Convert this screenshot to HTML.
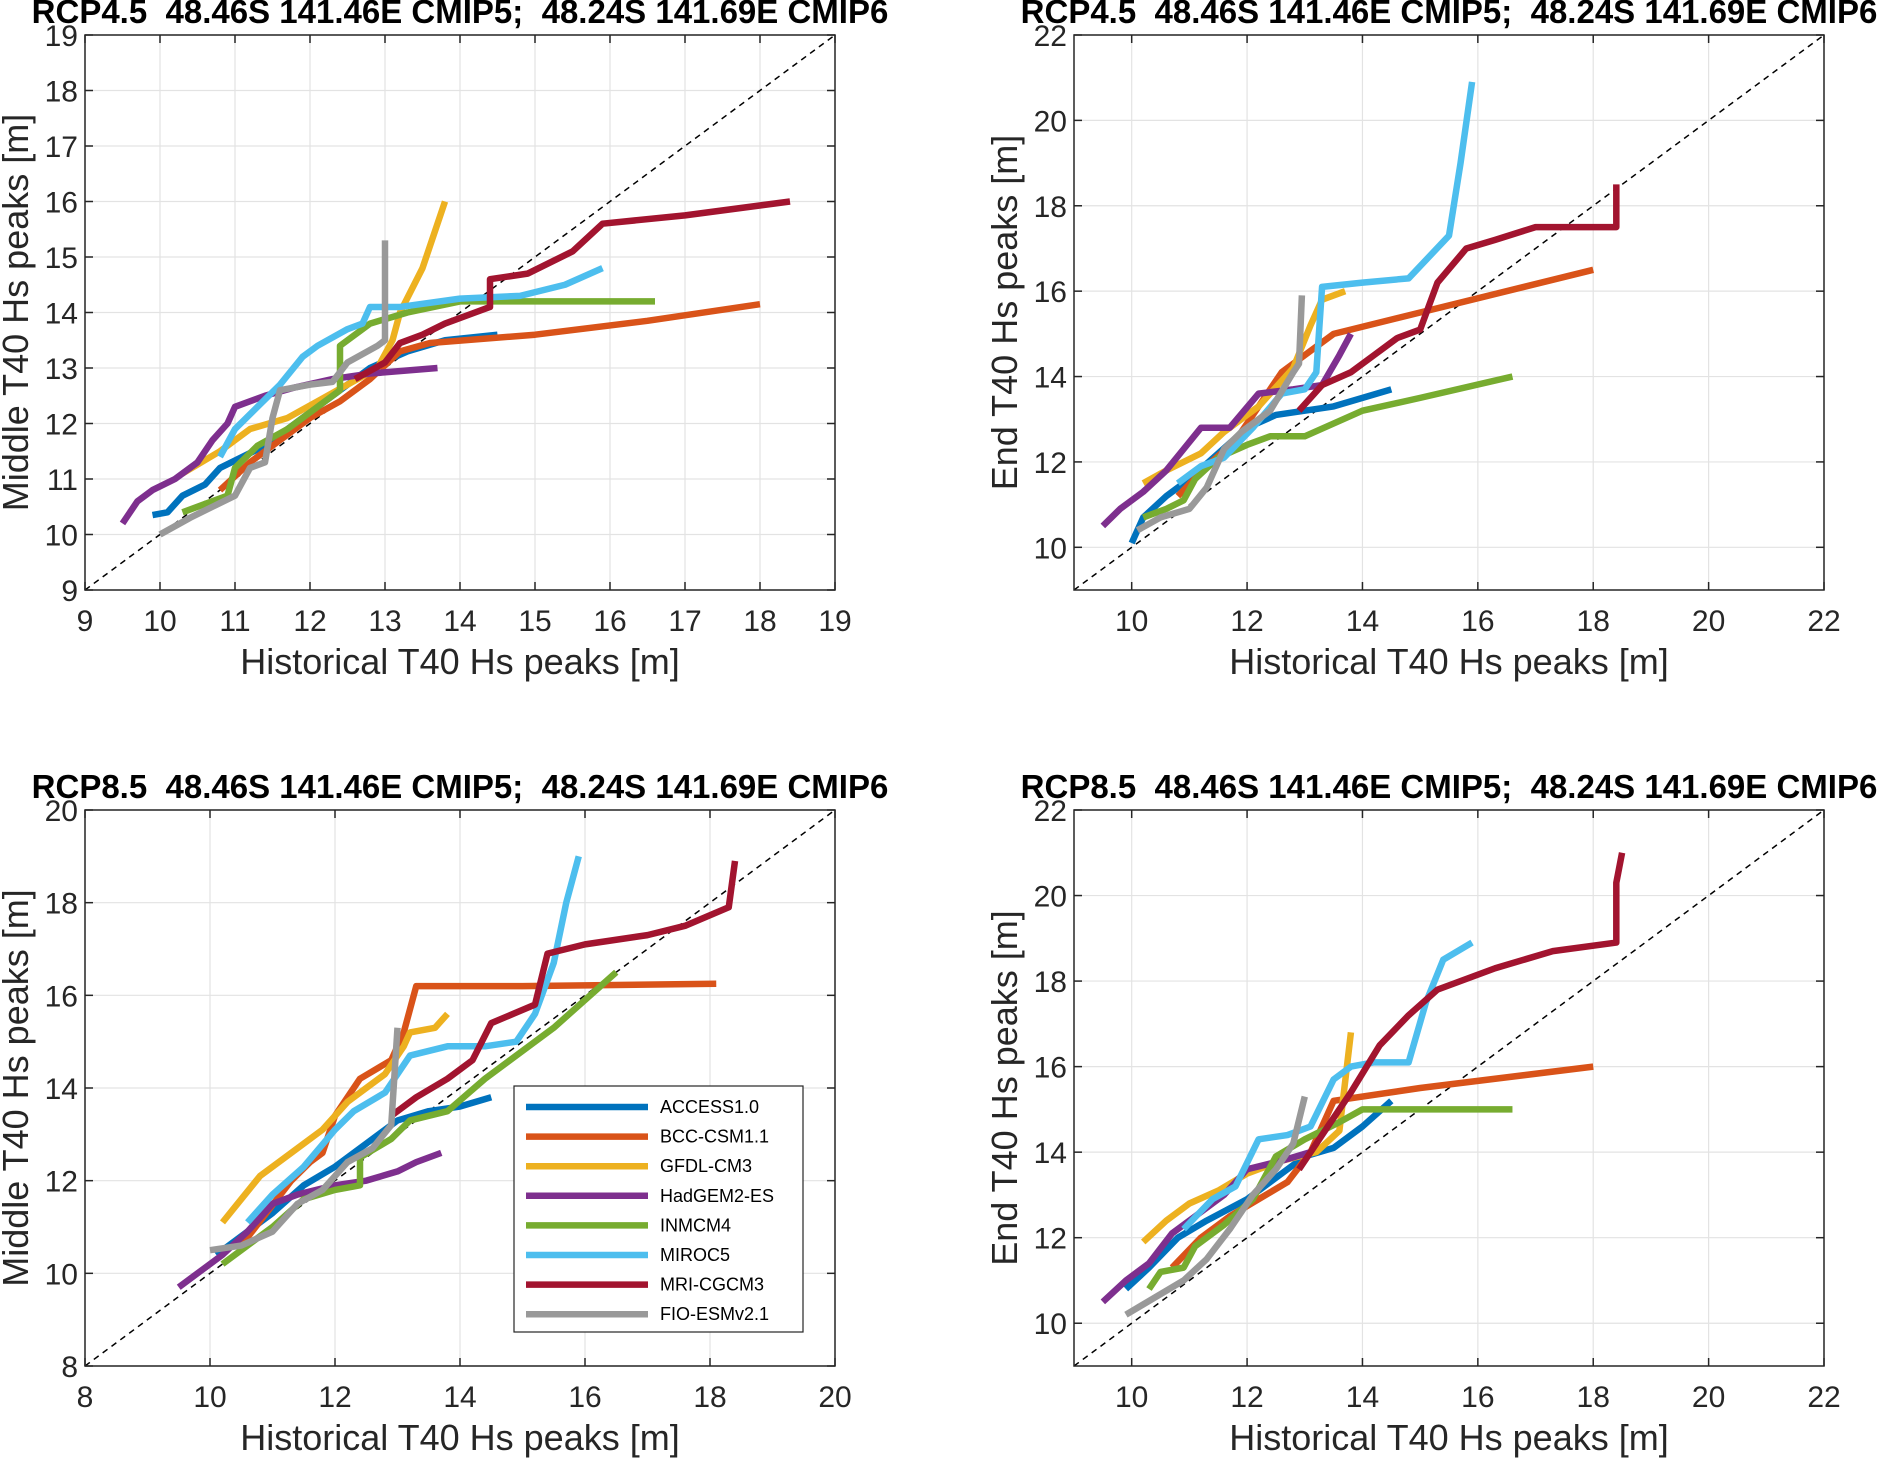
<!DOCTYPE html>
<html><head><meta charset="utf-8"><style>
html,body{margin:0;padding:0;background:#fff;}
svg{display:block;font-family:"Liberation Sans",Arial,sans-serif;}
.ttl{white-space:pre;}
</style></head><body>
<svg id="fig" width="1881" height="1460" viewBox="0 0 1881 1460" xmlns="http://www.w3.org/2000/svg"></svg>
<script>
const seriesNames = ["ACCESS1.0","BCC-CSM1.1","GFDL-CM3","HadGEM2-ES","INMCM4","MIROC5","MRI-CGCM3","FIO-ESMv2.1"];
const seriesColors = ["#0072BD","#D95319","#EDB120","#7E2F8E","#77AC30","#4DBEEE","#A2142F","#999999"];
const panelTitles = ["RCP4.5  48.46S 141.46E CMIP5;  48.24S 141.69E CMIP6","RCP4.5  48.46S 141.46E CMIP5;  48.24S 141.69E CMIP6","RCP8.5  48.46S 141.46E CMIP5;  48.24S 141.69E CMIP6","RCP8.5  48.46S 141.46E CMIP5;  48.24S 141.69E CMIP6"];
const yLabels = ["Middle T40 Hs peaks [m]","End T40 Hs peaks [m]","Middle T40 Hs peaks [m]","End T40 Hs peaks [m]"];
const xTicksA = [9,10,11,12,13,14,15,16,17,18,19];
const xTicksB = [10,12,14,16,18,20,22];
const xTicksC = [8,10,12,14,16,18,20];
const yTicksB = [10,12,14,16,18,20,22];
const panelA = [
 [[9.9,10.35],[10.1,10.4],[10.3,10.7],[10.6,10.9],[10.8,11.2],[11.1,11.4],[11.4,11.6],[11.7,11.9],[12.0,12.2],[12.4,12.6],[12.8,13.0],[13.3,13.3],[13.8,13.5],[14.5,13.6]],
 [[10.8,10.8],[11.2,11.3],[11.6,11.7],[12,12.1],[12.4,12.4],[12.8,12.8],[13.2,13.3],[13.6,13.45],[15,13.6],[16.5,13.85],[18,14.15]],
 [[10.3,11.1],[10.8,11.5],[11.2,11.9],[11.7,12.1],[12.1,12.4],[12.5,12.7],[12.9,13.0],[13.1,13.5],[13.2,14.0],[13.5,14.8],[13.8,16.0]],
 [[9.5,10.2],[9.7,10.6],[9.9,10.8],[10.2,11.0],[10.5,11.3],[10.7,11.7],[10.9,12.0],[11.0,12.3],[11.4,12.5],[11.8,12.65],[12.3,12.8],[12.8,12.9],[13.7,13.0]],
 [[10.3,10.4],[10.7,10.6],[10.9,10.7],[11.0,11.2],[11.3,11.6],[11.7,11.9],[12.1,12.3],[12.4,12.6],[12.4,13.4],[12.8,13.8],[13.3,14.0],[14,14.2],[15,14.2],[16.6,14.2]],
 [[10.8,11.4],[11.0,11.9],[11.3,12.3],[11.6,12.7],[11.9,13.2],[12.1,13.4],[12.5,13.7],[12.7,13.8],[12.8,14.1],[13.2,14.1],[14,14.25],[14.8,14.3],[15.4,14.5],[15.9,14.8]],
 [[12.6,12.8],[13,13.1],[13.2,13.45],[13.5,13.6],[13.8,13.8],[14.2,14.0],[14.4,14.1],[14.4,14.6],[14.9,14.7],[15.2,14.9],[15.5,15.1],[15.9,15.6],[17,15.75],[18.4,16.0]],
 [[10,10.0],[10.4,10.3],[10.7,10.5],[11.0,10.7],[11.2,11.2],[11.4,11.3],[11.5,12.1],[11.6,12.6],[12,12.7],[12.3,12.75],[12.5,13.1],[12.9,13.4],[13,13.5],[13,15.3]]
];
const panelB = [
 [[10,10.1],[10.2,10.7],[10.6,11.2],[11,11.6],[11.5,12.2],[12,12.8],[12.5,13.1],[13,13.2],[13.5,13.3],[14.5,13.7]],
 [[10.8,11.2],[11.3,11.9],[11.8,12.5],[12.2,13.3],[12.6,14.1],[13.1,14.6],[13.5,15],[15,15.5],[18,16.5]],
 [[10.2,11.5],[10.6,11.8],[11.2,12.2],[11.6,12.7],[12.2,13.3],[12.8,14.2],[13.1,15.2],[13.3,15.8],[13.7,16]],
 [[9.5,10.5],[9.8,10.9],[10.2,11.3],[10.6,11.8],[10.9,12.3],[11.2,12.8],[11.7,12.8],[12.2,13.6],[12.8,13.7],[13.3,13.8],[13.6,14.5],[13.8,15]],
 [[10.2,10.7],[10.6,10.9],[10.9,11.1],[11.1,11.6],[11.5,12.1],[12,12.4],[12.4,12.6],[13,12.6],[14,13.2],[15,13.5],[16.6,14]],
 [[10.8,11.5],[11.2,11.9],[11.6,12.1],[12.1,12.8],[12.6,13.6],[13.0,13.7],[13.2,14.1],[13.3,16.1],[14,16.2],[14.8,16.3],[15.5,17.3],[15.7,19],[15.9,20.9]],
 [[12.9,13.2],[13.3,13.8],[13.8,14.1],[14.2,14.5],[14.6,14.9],[15,15.1],[15.3,16.2],[15.8,17],[16.3,17.2],[17,17.5],[18.4,17.5],[18.4,18.5]],
 [[10.1,10.4],[10.5,10.7],[11,10.9],[11.3,11.4],[11.6,12.3],[11.9,12.7],[12.4,13.2],[12.8,14.1],[12.9,14.3],[12.95,15.9]]
];
const panelC = [
 [[10.1,10.4],[10.5,10.8],[11,11.3],[11.5,11.9],[12,12.3],[12.5,12.8],[13,13.3],[13.5,13.5],[14,13.6],[14.5,13.8]],
 [[10.5,10.6],[10.9,11.3],[11.3,12],[11.6,12.4],[11.8,12.6],[12,13.4],[12.4,14.2],[12.9,14.6],[13.1,15.2],[13.3,16.2],[15,16.2],[18.1,16.25]],
 [[10.2,11.1],[10.5,11.6],[10.8,12.1],[11.3,12.6],[11.8,13.1],[12.2,13.7],[12.8,14.3],[13.1,14.9],[13.2,15.2],[13.6,15.3],[13.8,15.6]],
 [[9.5,9.7],[9.9,10.1],[10.2,10.4],[10.6,10.9],[11,11.5],[11.4,11.7],[12,11.9],[12.5,12],[13,12.2],[13.3,12.4],[13.7,12.6]],
 [[10.2,10.2],[10.6,10.6],[11,11],[11.5,11.6],[12,11.8],[12.4,11.9],[12.4,12.5],[12.9,12.9],[13.2,13.3],[13.8,13.5],[14.4,14.2],[15.5,15.3],[16.5,16.5]],
 [[10.6,11.1],[11,11.7],[11.5,12.3],[12,13.1],[12.3,13.5],[12.8,13.9],[13.2,14.7],[13.8,14.9],[14.4,14.9],[14.9,15],[15.2,15.6],[15.5,16.7],[15.7,18],[15.9,19]],
 [[12.9,13.4],[13.3,13.8],[13.8,14.2],[14.2,14.6],[14.5,15.4],[15.2,15.8],[15.4,16.9],[16,17.1],[17,17.3],[17.6,17.5],[18.3,17.9],[18.4,18.9]],
 [[10,10.5],[10.5,10.6],[11,10.9],[11.4,11.5],[11.8,11.8],[12.2,12.4],[12.6,12.7],[12.9,13.2],[13,15.3]]
];
const panelD = [
 [[9.9,10.8],[10.3,11.3],[10.8,12],[11.3,12.4],[12,12.9],[12.5,13.4],[13,13.9],[13.5,14.1],[14,14.6],[14.5,15.2]],
 [[10.7,11.3],[11.2,12],[11.7,12.5],[12.2,12.9],[12.7,13.3],[13.1,14],[13.5,15.2],[15,15.5],[18,16]],
 [[10.2,11.9],[10.6,12.4],[11,12.8],[11.5,13.1],[12,13.5],[12.6,13.8],[13.2,14],[13.6,14.5],[13.8,16.8]],
 [[9.5,10.5],[9.9,11],[10.3,11.4],[10.7,12.1],[11.1,12.5],[11.6,13],[12,13.6],[12.6,13.8],[13.1,14]],
 [[10.3,10.8],[10.5,11.2],[10.9,11.3],[11.1,11.8],[11.6,12.3],[12.1,12.9],[12.5,13.9],[13,14.3],[13.6,14.7],[14,15],[15,15],[16.6,15]],
 [[10.9,12.2],[11.4,12.9],[11.8,13.2],[12.2,14.3],[12.7,14.4],[13.1,14.6],[13.5,15.7],[13.8,16],[14.2,16.1],[14.8,16.1],[15.1,17.5],[15.4,18.5],[15.9,18.9]],
 [[12.9,13.6],[13.4,14.6],[13.8,15.4],[14.3,16.5],[14.8,17.2],[15.3,17.8],[16.3,18.3],[17.3,18.7],[18.4,18.9],[18.4,20.3],[18.5,21]],
 [[9.9,10.2],[10.4,10.6],[10.9,11],[11.3,11.5],[11.7,12.2],[12.1,13],[12.5,13.6],[12.8,14.2],[13,15.3]]
];

const NS="http://www.w3.org/2000/svg";
const svg=document.getElementById('fig');
function mk(tag,attrs,parent){const e=document.createElementNS(NS,tag);for(const k in attrs)e.setAttribute(k,attrs[k]);(parent||svg).appendChild(e);return e;}

const panels=[
 {data:panelA,x0:85,x1:835,y0:35,y1:590,xmin:9,xmax:19,ymin:9,ymax:19,xt:xTicksA,yt:xTicksA,name:'panel-rcp45-middle'},
 {data:panelB,x0:1074,x1:1824,y0:35,y1:590,xmin:9,xmax:22,ymin:9,ymax:22,xt:xTicksB,yt:yTicksB,name:'panel-rcp45-end'},
 {data:panelC,x0:85,x1:835,y0:810,y1:1366,xmin:8,xmax:20,ymin:8,ymax:20,xt:xTicksC,yt:xTicksC,name:'panel-rcp85-middle'},
 {data:panelD,x0:1074,x1:1824,y0:810,y1:1366,xmin:9,xmax:22,ymin:9,ymax:22,xt:xTicksB,yt:yTicksB,name:'panel-rcp85-end'}
];

panels.forEach((p,pi)=>{
 const g=mk('g',{});
 
 
 const sx=v=>p.x0+(v-p.xmin)/(p.xmax-p.xmin)*(p.x1-p.x0);
 const sy=v=>p.y1-(v-p.ymin)/(p.ymax-p.ymin)*(p.y1-p.y0);
 p.xt.forEach(t=>{const l=mk('line',{x1:sx(t),x2:sx(t),y1:p.y0,y2:p.y1,stroke:'#e3e3e3','stroke-width':1.2},g);
  });
 p.yt.forEach(t=>{const l=mk('line',{x1:p.x0,x2:p.x1,y1:sy(t),y2:sy(t),stroke:'#e3e3e3','stroke-width':1.2},g);
  });
 const lo=Math.max(p.xmin,p.ymin), hi=Math.min(p.xmax,p.ymax);
 const d=mk('line',{x1:sx(lo),y1:sy(lo),x2:sx(hi),y2:sy(hi),stroke:'#000','stroke-width':1.5,'stroke-dasharray':'6,5'},g);
 
 p.data.forEach((s,si)=>{
  const pl=mk('polyline',{points:s.map(q=>sx(q[0])+','+sy(q[1])).join(' '),fill:'none',stroke:seriesColors[si],'stroke-width':6.5,'stroke-linejoin':'round','stroke-linecap':'butt'},g);
  
  
 });
 const b=mk('rect',{x:p.x0,y:p.y0,width:p.x1-p.x0,height:p.y1-p.y0,fill:'none',stroke:'#262626','stroke-width':1.5},g);
 
 p.xt.forEach(t=>{
  mk('line',{x1:sx(t),x2:sx(t),y1:p.y1,y2:p.y1-8,stroke:'#262626','stroke-width':1.5},g);
  mk('line',{x1:sx(t),x2:sx(t),y1:p.y0,y2:p.y0+8,stroke:'#262626','stroke-width':1.5},g);
  const tx=mk('text',{x:sx(t),y:p.y1+41,'font-size':30,'text-anchor':'middle',fill:'#262626'},g);tx.textContent=t;
  
 });
 p.yt.forEach(t=>{
  mk('line',{x1:p.x0,x2:p.x0+8,y1:sy(t),y2:sy(t),stroke:'#262626','stroke-width':1.5},g);
  mk('line',{x1:p.x1,x2:p.x1-8,y1:sy(t),y2:sy(t),stroke:'#262626','stroke-width':1.5},g);
  const ty=mk('text',{x:p.x0-7,y:sy(t)+11,'font-size':30,'text-anchor':'end',fill:'#262626'},g);ty.textContent=t;
  
 });
 const cx=(p.x0+p.x1)/2, cy=(p.y0+p.y1)/2;
 const xl=mk('text',{x:cx,y:p.y1+84,'font-size':36,'text-anchor':'middle',fill:'#262626'},g);xl.textContent='Historical T40 Hs peaks [m]';
 
 const yl=mk('text',{x:0,y:0,'font-size':36,'text-anchor':'middle',fill:'#262626',transform:`translate(${p.x0-57},${cy}) rotate(-90)`},g);yl.textContent=yLabels[pi];
 
 const tl=mk('text',{x:cx,y:p.y0-12,'font-size':33,'font-weight':'bold','text-anchor':'middle',fill:'#000','class':'ttl'},g);tl.textContent=panelTitles[pi];
 
});

const lg=mk('g',{});


mk('rect',{x:514,y:1086,width:289,height:246,fill:'#fff',stroke:'#262626','stroke-width':1.2},lg);
seriesNames.forEach((n,i)=>{
 const y=1107+i*29.6;
 const e=mk('g',{},lg);
 
 
 mk('line',{x1:526,x2:648,y1:y,y2:y,stroke:seriesColors[i],'stroke-width':6.5},e);
 const t=mk('text',{x:660,y:y+6,'font-size':18,fill:'#000'},e);t.textContent=n;
});
</script>
</body></html>
